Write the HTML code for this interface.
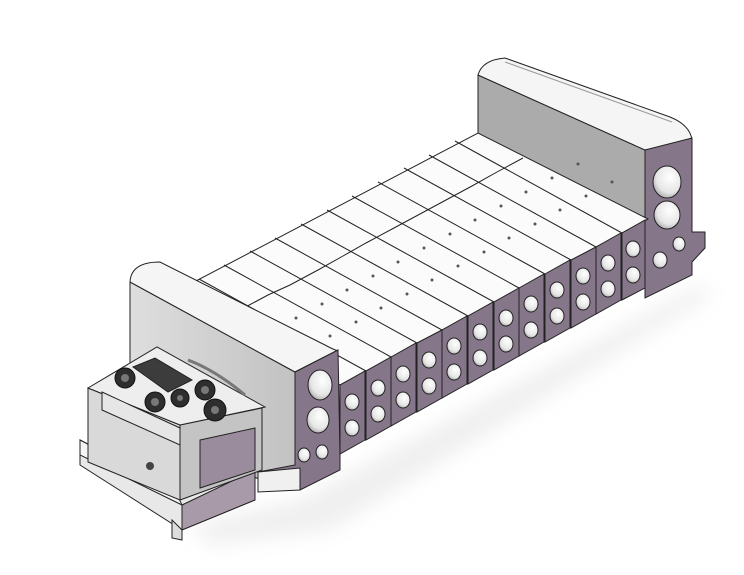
<!DOCTYPE html>
<html><head><meta charset="utf-8"><style>html,body{margin:0;padding:0;background:#fff}svg{display:block}</style></head>
<body>
<svg width="744" height="575" viewBox="0 0 744 575" xmlns="http://www.w3.org/2000/svg">
<defs>
<filter id="bl" x="-20%" y="-20%" width="140%" height="140%"><feGaussianBlur stdDeviation="10"/></filter>
<radialGradient id="hole" cx="0.6" cy="0.35" r="0.8"><stop offset="0" stop-color="#ffffff"/><stop offset="0.6" stop-color="#e6e6e6"/><stop offset="1" stop-color="#8c8c8c"/></radialGradient>
<linearGradient id="gw" x1="0" y1="0" x2="1" y2="0"><stop offset="0" stop-color="#dedede"/><stop offset="1" stop-color="#c2c2c2"/></linearGradient>
</defs>
<!-- shadow -->
<polygon points="190,525 300,500 700,285 712,295 330,530 210,545" fill="#dcdcdc" filter="url(#bl)" opacity="0.45"/>

<!-- right end block -->
<polygon points="478,75 478,135 645,232 645,150" fill="#ababab" stroke="#222" stroke-width="1"/>
<path d="M478,75 Q482,60 505,58 L670,117 Q690,125 692,140 L645,150 Z" fill="#f5f5f5" stroke="#222" stroke-width="1"/>
<path d="M505,62 L672,122" stroke="#999" stroke-width="1" fill="none"/>
<polygon points="645,150 692,138 692,232 705,232 705,248 692,262 692,275 645,298" fill="#867689" stroke="#222" stroke-width="1"/>
<ellipse cx="667" cy="182" rx="14" ry="16" fill="url(#hole)" stroke="#222"/>
<ellipse cx="667" cy="215" rx="13" ry="14" fill="url(#hole)" stroke="#222"/>
<ellipse cx="679" cy="244" rx="6" ry="7" fill="url(#hole)" stroke="#222"/>
<ellipse cx="660" cy="260" rx="7" ry="8" fill="url(#hole)" stroke="#222"/>

<!-- valve top surface -->
<polygon points="340,385 648,219 478,133 173,293" fill="#fbfbfb" stroke="#222" stroke-width="1"/>
<g stroke="#222" stroke-width="1">
<line x1="366" y1="371" x2="199" y2="279"/>
<line x1="391" y1="357" x2="224" y2="265"/>
<line x1="417" y1="343" x2="250" y2="251"/>
<line x1="442" y1="330" x2="275" y2="238"/>
<line x1="468" y1="316" x2="301" y2="224"/>
<line x1="494" y1="302" x2="327" y2="210"/>
<line x1="519" y1="288" x2="352" y2="196"/>
<line x1="545" y1="274" x2="378" y2="182"/>
<line x1="571" y1="260" x2="404" y2="168"/>
<line x1="596" y1="247" x2="429" y2="155"/>
<line x1="622" y1="233" x2="455" y2="141"/>
<polyline fill="none" points="240,310 268,295 290,285 318,270 343,256 366,243 394,228 420,214 446,200 472,186 497,172 523,158" />
</g>
<g fill="#555">
<circle cx="296" cy="318" r="1.5"/><circle cx="322" cy="304" r="1.5"/><circle cx="347" cy="290" r="1.5"/><circle cx="373" cy="276" r="1.5"/><circle cx="398" cy="262" r="1.5"/><circle cx="424" cy="248" r="1.5"/><circle cx="450" cy="234" r="1.5"/><circle cx="475" cy="220" r="1.5"/><circle cx="501" cy="206" r="1.5"/><circle cx="526" cy="192" r="1.5"/><circle cx="552" cy="178" r="1.5"/><circle cx="578" cy="164" r="1.5"/>
<circle cx="330" cy="336" r="1.5"/><circle cx="356" cy="322" r="1.5"/><circle cx="381" cy="308" r="1.5"/><circle cx="407" cy="294" r="1.5"/><circle cx="432" cy="280" r="1.5"/><circle cx="458" cy="266" r="1.5"/><circle cx="484" cy="252" r="1.5"/><circle cx="509" cy="238" r="1.5"/><circle cx="535" cy="224" r="1.5"/><circle cx="560" cy="210" r="1.5"/><circle cx="586" cy="196" r="1.5"/><circle cx="612" cy="182" r="1.5"/>
</g>

<!-- station faces -->
<g stroke="#222" stroke-width="1">
<polygon points="340,385 365,371 365,440 340,454" fill="#867689"/>
<polygon points="366,371 391,357 391,426 366,440" fill="#867689"/>
<polygon points="391,357 416,343 416,412 391,426" fill="#867689"/>
<polygon points="417,343 442,330 442,398 417,412" fill="#867689"/>
<polygon points="442,330 467,316 467,384 442,398" fill="#867689"/>
<polygon points="468,316 493,302 493,370 468,384" fill="#867689"/>
<polygon points="494,302 519,288 519,356 494,370" fill="#867689"/>
<polygon points="519,288 544,274 544,342 519,356" fill="#867689"/>
<polygon points="545,274 570,260 570,328 545,342" fill="#867689"/>
<polygon points="571,260 596,247 596,314 571,328" fill="#867689"/>
<polygon points="596,247 621,233 621,300 596,314" fill="#867689"/>
<polygon points="622,233 645,220 645,288 622,300" fill="#867689"/>
</g>
<g stroke="#222" stroke-width="1" fill="url(#hole)">
<ellipse cx="352" cy="402" rx="7" ry="8"/><ellipse cx="352" cy="428" rx="7" ry="8"/>
<ellipse cx="378" cy="388" rx="7" ry="8"/><ellipse cx="378" cy="414" rx="7" ry="8"/>
<ellipse cx="403" cy="374" rx="7" ry="8"/><ellipse cx="403" cy="400" rx="7" ry="8"/>
<ellipse cx="429" cy="360" rx="7" ry="8"/><ellipse cx="429" cy="386" rx="7" ry="8"/>
<ellipse cx="454" cy="346" rx="7" ry="8"/><ellipse cx="454" cy="372" rx="7" ry="8"/>
<ellipse cx="480" cy="332" rx="7" ry="8"/><ellipse cx="480" cy="358" rx="7" ry="8"/>
<ellipse cx="506" cy="318" rx="7" ry="8"/><ellipse cx="506" cy="344" rx="7" ry="8"/>
<ellipse cx="531" cy="304" rx="7" ry="8"/><ellipse cx="531" cy="330" rx="7" ry="8"/>
<ellipse cx="557" cy="290" rx="7" ry="8"/><ellipse cx="557" cy="316" rx="7" ry="8"/>
<ellipse cx="583" cy="276" rx="7" ry="8"/><ellipse cx="583" cy="302" rx="7" ry="8"/>
<ellipse cx="608" cy="263" rx="7" ry="8"/><ellipse cx="608" cy="289" rx="7" ry="8"/>
<ellipse cx="633" cy="249" rx="7" ry="8"/><ellipse cx="633" cy="275" rx="7" ry="8"/>
</g>

<!-- left end block -->
<polygon points="130,282 130,445 295,488 295,372" fill="url(#gw)" stroke="#222" stroke-width="1"/>
<path d="M130,282 Q131,262 160,262 L325,345 Q338,352 338,350 L295,372 Z" fill="#f5f5f5" stroke="#222" stroke-width="1"/>
<polygon points="295,372 338,350 340,455 340,470 300,490 258,490 258,472 295,465" fill="#867689" stroke="#222" stroke-width="1"/>
<polygon points="258,472 300,468 300,490 258,492" fill="#f0f0f0" stroke="#222"/>
<ellipse cx="320" cy="385" rx="12" ry="15" fill="url(#hole)" stroke="#222"/>
<ellipse cx="318" cy="420" rx="11" ry="13" fill="url(#hole)" stroke="#222"/>
<ellipse cx="304" cy="455" rx="6" ry="7" fill="url(#hole)" stroke="#222"/>
<ellipse cx="322" cy="452" rx="6" ry="7" fill="url(#hole)" stroke="#222"/>

<!-- controller base plate -->
<polygon points="80,440 175,490 255,455 255,500 182,530 80,465" fill="#e8e8e8" stroke="#222" stroke-width="1"/>
<polygon points="80,440 175,490 182,505 80,455" fill="#f5f5f5" stroke="#222"/>
<polygon points="182,505 255,470 255,500 182,530" fill="#a89aa8" stroke="#222"/>
<polygon points="172,520 182,530 182,540 172,538" fill="#ddd" stroke="#222"/>
<!-- module body -->
<polygon points="88,388 180,425 180,500 88,462" fill="#d9d9d9" stroke="#222" stroke-width="1"/>
<polygon points="180,425 262,408 262,470 180,500" fill="#c4c4c4" stroke="#222" stroke-width="1"/>
<polygon points="200,440 255,428 255,470 200,488" fill="#9a8c9c" stroke="#222"/>
<polygon points="88,388 157,347 265,407 180,425" fill="#eeeeee" stroke="#222" stroke-width="1"/>
<polygon points="102,392 180,428 180,445 102,410" fill="#e6e6e6" stroke="#222"/>
<polygon points="133,367 155,358 192,380 168,392" fill="#3c3c3c" stroke="#222"/>
<g fill="#2e2e2e" stroke="#111">
<circle cx="125" cy="378" r="10"/><circle cx="155" cy="402" r="10"/><circle cx="180" cy="398" r="9"/><circle cx="205" cy="390" r="10"/><circle cx="215" cy="410" r="11"/>
</g>
<g fill="#777"><circle cx="125" cy="378" r="4"/><circle cx="155" cy="402" r="4"/><circle cx="180" cy="398" r="3"/><circle cx="205" cy="390" r="4"/><circle cx="215" cy="410" r="4"/></g>
<path d="M188,360 Q215,370 245,395" stroke="#777" stroke-width="3" fill="none"/>
<circle cx="150" cy="466" r="4" fill="#444"/>
</svg>
</body></html>
